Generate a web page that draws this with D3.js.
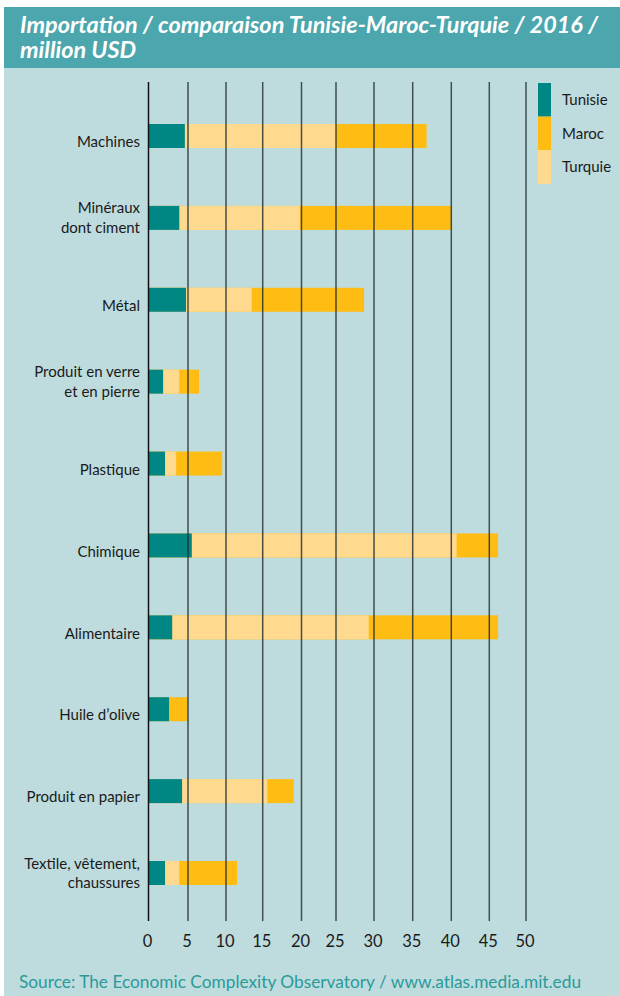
<!DOCTYPE html>
<html>
<head>
<meta charset="utf-8">
<script src="https://cdn.jsdelivr.net/npm/d3@7"></script>
<style>
  html, body { margin: 0; padding: 0; background: #ffffff; }
  svg { display: block; }
  text { font-family: Lato, "Open Sans", sans-serif; }
</style>
</head>
<body>
<div id="chart"></div>
<script>
// ---- data ----
const categories = [
  ["Machines"],
  ["Minéraux", "dont ciment"],
  ["Métal"],
  ["Produit en verre", "et en pierre"],
  ["Plastique"],
  ["Chimique"],
  ["Alimentaire"],
  ["Huile d’olive"],
  ["Produit en papier"],
  ["Textile, vêtement,", "chaussures"]
];
const tunisie = [4.6, 3.9, 4.75, 1.85, 2.1, 5.5, 3.0, 2.6, 4.25, 2.1];
const turquie = [25.0, 19.8, 13.5, 3.9, 3.5, 40.7, 29.3, 0, 15.6, 3.9];
const maroc   = [36.8, 40.0, 28.7, 6.45, 9.5, 46.2, 46.2, 5.0, 19.0, 11.5];
const tickValues = [0, 5, 10, 15, 20, 25, 30, 35, 40, 45, 50];
const seriesNames = ["Tunisie", "Maroc", "Turquie"];
const titleLines = ["Importation / comparaison Tunisie-Maroc-Turquie / 2016 /", "million USD"];
const sourceText = "Source: The Economic Complexity Observatory / www.atlas.media.mit.edu";

// ---- layout ----
const W = 620, H = 996;
const colors = { Tunisie: "#008683", Maroc: "#FFBC12", Turquie: "#FFDA8E" };

const svg = d3.select("#chart").append("svg").attr("width", W).attr("height", H);

svg.append("rect").attr("x", 4).attr("y", 7).attr("width", W - 4).attr("height", H - 7).attr("fill", "#BEDCDE");
svg.append("rect").attr("x", 4).attr("y", 7).attr("width", W - 4).attr("height", 61).attr("fill", "#4BA7AD");

svg.append("g").attr("transform", "translate(20,0) scale(1.065,1)")
  .selectAll("text").data(titleLines).join("text")
  .attr("x", 0).attr("y", (d, i) => 33 + i * 25)
  .attr("fill", "#ffffff").attr("font-size", 22).attr("font-weight", 700).attr("font-style", "italic")
  .text(d => d);

// x scale (tick positions of the original are slightly uneven)
const x = d3.scaleLinear()
  .domain(tickValues)
  .range([148.5, 188, 226, 262.7, 301.5, 336, 374, 412.7, 451.3, 489.3, 526]);

const y = d3.scalePoint().domain(d3.range(categories.length)).range([136, 873]);
const barH = 24;

const rows = categories.map((c, i) => ({ i, c, tun: tunisie[i], tur: turquie[i], mar: maroc[i] }));

const bars = svg.append("g");
// Maroc (back), Turquie, Tunisie (front)
bars.selectAll("rect.mar").data(rows).join("rect").attr("class", "mar")
  .attr("x", x(0)).attr("y", d => y(d.i) - barH / 2)
  .attr("width", d => x(d.mar) - x(0)).attr("height", barH).attr("fill", colors.Maroc);
bars.selectAll("rect.tur").data(rows).join("rect").attr("class", "tur")
  .attr("x", x(0)).attr("y", d => y(d.i) - barH / 2)
  .attr("width", d => Math.max(0, x(d.tur) - x(0))).attr("height", barH).attr("fill", colors.Turquie);
bars.selectAll("rect.tun").data(rows).join("rect").attr("class", "tun")
  .attr("x", x(0)).attr("y", d => y(d.i) - barH / 2)
  .attr("width", d => x(d.tun) - x(0)).attr("height", barH).attr("fill", colors.Tunisie);

// grid lines on top of bars
svg.append("g").selectAll("line").data(tickValues).join("line")
  .attr("x1", d => x(d)).attr("x2", d => x(d))
  .attr("y1", 82).attr("y2", 921)
  .attr("stroke", d => d === 0 ? "#111" : "#1f2a2a").attr("stroke-opacity", d => d === 0 ? 1 : 0.8)
  .attr("stroke-width", 1.5);

// axis labels
const xAxis = d3.axisBottom(x).tickValues(tickValues).tickSize(0).tickPadding(0).tickFormat(d3.format("d"));
const ax = svg.append("g").attr("transform", "translate(0,941)").call(xAxis);
ax.select(".domain").remove();
ax.selectAll("text").attr("font-size", 16.5).attr("fill", "#1a1a1a").attr("dy", "0.35em")
  .attr("font-family", "Lato, sans-serif").attr("dx", -1.5);

// category labels
const lab = svg.append("g").selectAll("text").data(rows).join("text")
  .attr("text-anchor", "end").attr("font-size", 15).attr("fill", "#1a1a1a");
lab.each(function(d) {
  const t = d3.select(this);
  const n = d.c.length;
  const off = n === 1 ? 6 : 0;
  d.c.forEach((line, k) => {
    t.append("tspan").attr("x", 140)
      .attr("y", y(d.i) + off + (k - (n - 1) / 2) * 19.5)
      .attr("dy", "0.35em").text(line);
  });
});

// legend
const lg = svg.append("g");
const legendOrder = seriesNames;
lg.selectAll("rect").data(legendOrder).join("rect")
  .attr("x", 538).attr("y", (d, i) => 83 + i * 33.6).attr("width", 13).attr("height", 33.6)
  .attr("fill", d => colors[d]);
lg.selectAll("text").data(legendOrder).join("text")
  .attr("x", 562).attr("y", (d, i) => 100 + i * 33.3).attr("dy", "0.35em")
  .attr("font-size", 15).attr("fill", "#1a1a1a").text(d => d);

// source
svg.append("text").attr("x", 19).attr("y", 988).attr("font-size", 17.3).attr("fill", "#2A9A9A")
  .text(sourceText);
</script>
</body>
</html>
